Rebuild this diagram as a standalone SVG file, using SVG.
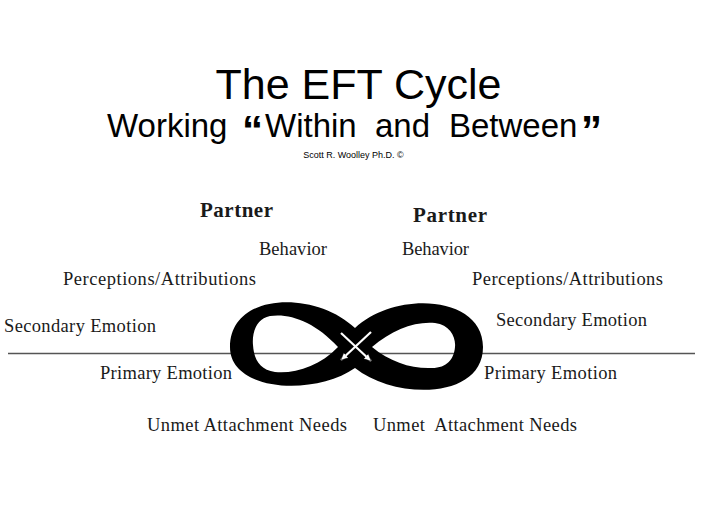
<svg xmlns="http://www.w3.org/2000/svg" width="705" height="528" viewBox="0 0 705 528">
  <style>
    .title { font-family: "Liberation Sans", Arial, sans-serif; fill: #000; }
    .lbl { font-family: "Liberation Serif", "Times New Roman", serif; font-size: 18.5px; fill: #1a1a1a; }
    .bold { font-weight: bold; font-size: 21px; }
    .lane { stroke: #fff; stroke-width: 2.2; fill: none; }
  </style>
  <defs>
    <marker id="ah" markerUnits="userSpaceOnUse" markerWidth="10" markerHeight="10" refX="7" refY="4" orient="auto">
      <path d="M0,0.5 L7.5,4 L0,7.5 Z" fill="#fff" stroke="#000" stroke-width="0.6"/>
    </marker>
  </defs>
  <rect width="705" height="528" fill="#fff"/>

  <g id="title">
    <text class="title" x="358.5" y="99" font-size="43" text-anchor="middle">The EFT Cycle</text>
    <text class="title" y="137" font-size="33"><tspan x="107">Working</tspan><tspan x="242" y="145" font-size="42" font-weight="bold">“</tspan><tspan x="265" y="137">Within</tspan><tspan x="375">and</tspan><tspan x="449">Between</tspan><tspan x="581" y="145" font-size="42" font-weight="bold">”</tspan></text>
    <text class="title" x="353.5" y="158" font-size="9" text-anchor="middle">Scott R. Woolley Ph.D. ©</text>
  </g>

  <g id="divider">
    <line x1="8" y1="353.5" x2="695" y2="353.5" stroke="#555" stroke-width="1.4"/>
  </g>

  <g id="cycle">
    <path fill="#000" fill-rule="evenodd" d="M355,328 C395,290 483,295 483,347 C483,400 395,400 355,368 C315,396 230,392 230,347 C230,292 315,290 355,328 Z
      M338,347 C315,322 290,313 270,316 C255,319 252,335 253,345 C254,360 260,370 275,372 C295,374 320,366 338,347 Z
      M372,347 C392,330 415,321 435,323 C450,325 456,337 455,347 C454,359 447,368 432,368 C412,369 390,362 372,347 Z"/>
  </g>

  <g id="connectors">
    <line class="lane" x1="341" y1="333" x2="371" y2="361" marker-end="url(#ah)"/>
    <line class="lane" x1="371" y1="332" x2="341" y2="360" marker-end="url(#ah)"/>
  </g>

  <g id="left-partner">
    <text class="lbl bold" x="200" y="217" textLength="73">Partner</text>
    <text class="lbl" x="259" y="255" textLength="68">Behavior</text>
    <text class="lbl" x="63" y="285" textLength="193">Perceptions/Attributions</text>
    <text class="lbl" x="4" y="332" textLength="152">Secondary Emotion</text>
    <text class="lbl" x="100" y="379" textLength="132">Primary Emotion</text>
    <text class="lbl" x="147" y="430.5" textLength="200">Unmet Attachment Needs</text>
  </g>

  <g id="right-partner">
    <text class="lbl bold" x="413" y="222" textLength="74">Partner</text>
    <text class="lbl" x="402" y="255" textLength="67">Behavior</text>
    <text class="lbl" x="472" y="285" textLength="191">Perceptions/Attributions</text>
    <text class="lbl" x="496" y="326" textLength="151">Secondary Emotion</text>
    <text class="lbl" x="484" y="379" textLength="133">Primary Emotion</text>
    <text class="lbl" x="373" y="430.5" textLength="204" xml:space="preserve">Unmet  Attachment Needs</text>
  </g>
</svg>
